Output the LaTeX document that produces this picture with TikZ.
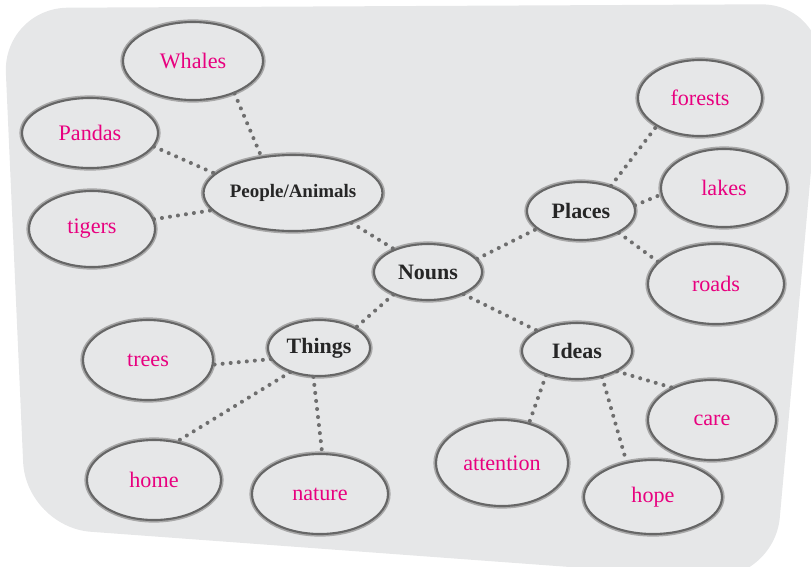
\documentclass[tikz,border=0pt]{standalone}
\usepackage{fontspec}
\setmainfont{Liberation Serif}
\usetikzlibrary{shapes.geometric}
\definecolor{bgfill}{HTML}{E6E7E8}
\definecolor{pinktext}{HTML}{E8007F}
\definecolor{rimdark}{HTML}{666666}
\definecolor{rimlight}{HTML}{A8A8A8}
\definecolor{dotcol}{HTML}{6E6E6E}
\tikzset{
  bubble/.style={ellipse, inner sep=0pt, fill=bgfill,
    preaction={draw=rimlight, line width=3pt},
    draw=rimdark, line width=1.2pt},
  leaf/.style={bubble, text=pinktext, font=\fontsize{12.6}{14}\selectfont},
  hub/.style={bubble, text=black!85, font=\fontsize{12.5}{14}\selectfont\bfseries},
  link/.style={draw=dotcol, line width=2.3pt, line cap=round, dash pattern=on 0pt off 4.6pt}
}
\begin{document}
\begin{tikzpicture}[x=0.02cm,y=-0.02cm]
\useasboundingbox (0,0) rectangle (811,566);
% background card
\fill[bgfill, rounded corners=1.3cm] (3,8) -- (826,4) -- (774,582) -- (26,527) -- cycle;

% hubs
\node[hub, minimum width=3.04cm, minimum height=1.52cm, font=\fontsize{10.8}{12}\selectfont\bfseries] (people) at (293,193) {People/Animals};
\node[hub, minimum width=2.16cm, minimum height=1.12cm] (nouns) at (428,272) {Nouns};
\node[hub, minimum width=2.16cm, minimum height=1.16cm] (places) at (581,211) {Places};
\node[hub, minimum width=2.2cm, minimum height=1.12cm] (ideas) at (577,351) {Ideas};
\node[hub, minimum width=2.04cm, minimum height=1.12cm] (things) at (319,348) {Things};

% leaves
\node[leaf, minimum width=2.8cm, minimum height=1.56cm] (whales) at (193,61) {Whales};
\node[leaf, minimum width=2.72cm, minimum height=1.4cm] (pandas) at (90,133) {Pandas};
\node[leaf, minimum width=2.52cm, minimum height=1.52cm] (tigers) at (92,229) {tigers};
\node[leaf, minimum width=2.48cm, minimum height=1.52cm] (forests) at (700,98) {forests};
\node[leaf, minimum width=2.52cm, minimum height=1.56cm] (lakes) at (724,188) {lakes};
\node[leaf, minimum width=2.72cm, minimum height=1.6cm] (roads) at (716,284) {roads};
\node[leaf, minimum width=2.56cm, minimum height=1.6cm] (care) at (712,420) {care};
\node[leaf, minimum width=2.76cm, minimum height=1.48cm] (hope) at (653,497) {hope};
\node[leaf, minimum width=2.64cm, minimum height=1.72cm] (attention) at (502,463) {attention};
\node[leaf, minimum width=2.6cm, minimum height=1.6cm] (trees) at (148,360) {trees};
\node[leaf, minimum width=2.68cm, minimum height=1.6cm] (home) at (154,480) {home};
\node[leaf, minimum width=2.72cm, minimum height=1.6cm] (nature) at (320,494) {nature};

% connectors
\draw[link] (whales.-38) -- (people.131);
\draw[link] (pandas.-12) -- (people.166);
\draw[link] (tigers.9) -- (people.192);
\draw[link] (people.-27) -- (nouns.146);
\draw[link] (nouns.15) -- (places.202);
\draw[link] (places.40) -- (forests.213);
\draw[link] (places.6) -- (lakes.186);
\draw[link] (places.-30) -- (roads.159);
\draw[link] (nouns.-32) -- (ideas.153);
\draw[link] (ideas.-27) -- (care.141);
\draw[link] (ideas.-46) -- (hope.127);
\draw[link] (ideas.218) -- (attention.56);
\draw[link] (nouns.213) -- (things.29);
\draw[link] (things.193) -- (trees.-4);
\draw[link] (things.220) -- (home.59);
\draw[link] (things.259) -- (nature.87);
\end{tikzpicture}
\end{document}
